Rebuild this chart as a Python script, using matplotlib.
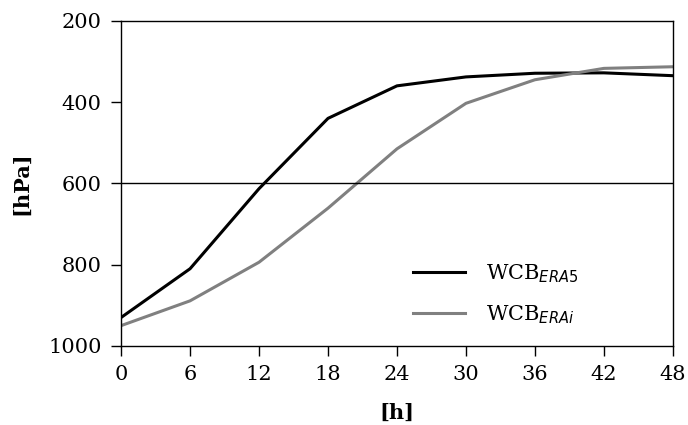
import matplotlib
matplotlib.use("Agg")
import matplotlib.pyplot as plt

## data
hours = [0, 6, 12, 18, 24, 30, 36, 42, 48]
wcb_era5 = [930, 810, 613, 440, 360, 338, 329, 328, 335]
wcb_erai = [950, 889, 794, 661, 515, 403, 345, 317, 313]

plt.rcParams['font.family'] = ['DejaVu Serif']
plt.rcParams['mathtext.fontset'] = 'dejavusans'
plt.rcParams['font.size'] = 15

fig = plt.figure(figsize=(6.88, 4.25), dpi=100)
ax = fig.add_axes([0.176, 0.186, 0.802, 0.765])

ax.plot(hours, wcb_era5, color='black', lw=2.2, label=r'WCB$_{ERA5}$')
ax.plot(hours, wcb_erai, color='#808080', lw=2.2, label=r'WCB$_{ERAi}$')
ax.axhline(600, color='black', lw=1.0)

ax.set_xlim(0, 48)
ax.set_ylim(1000, 200)
ax.set_xticks(range(0, 49, 6))
ax.set_yticks([1000, 800, 600, 400, 200])
ax.tick_params(direction='out', length=7, width=1.0, labelsize=15, pad=7)
for s in ax.spines.values():
	s.set_linewidth(1.0)

ax.set_xlabel("[h]", fontweight='bold', fontsize=15, labelpad=13)
ax.set_ylabel("[hPa]", fontweight='bold', fontsize=15, labelpad=12)

ax.legend(loc='lower right', frameon=False, fontsize=15, handlelength=2.5,
		  handletextpad=1.0, labelspacing=0.85, bbox_to_anchor=(0.863, 0.005))

fig.savefig("out.png", dpi=100)
